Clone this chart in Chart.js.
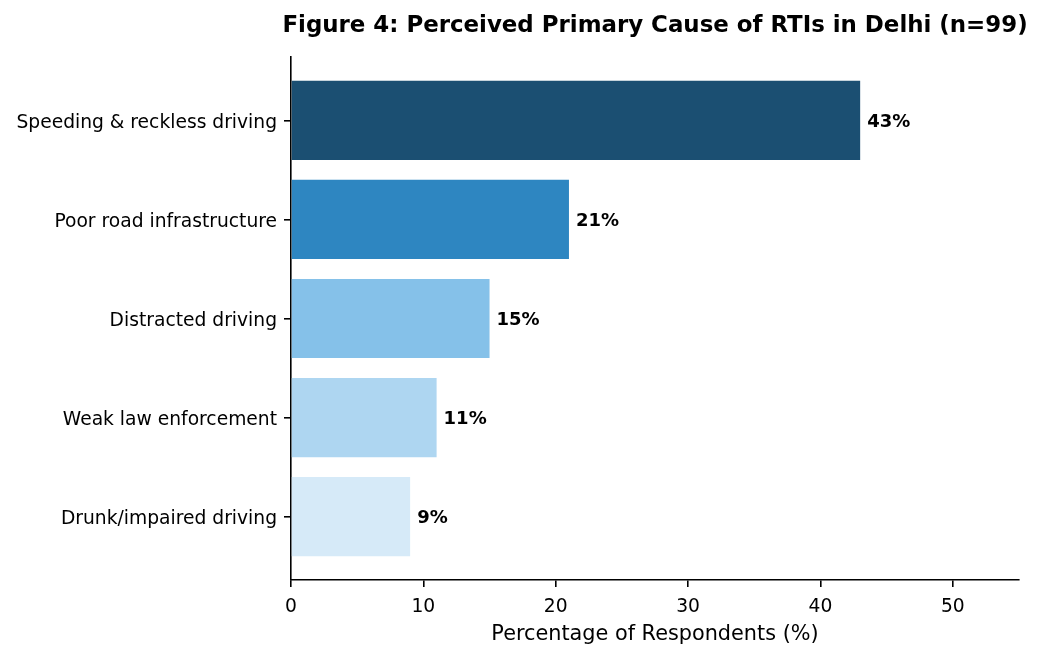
<!DOCTYPE html>
<html lang="en">
<head>
<meta charset="utf-8">
<title>Figure 4</title>
<script src="https://cdn.jsdelivr.net/npm/chart.js@4/dist/chart.umd.min.js"></script>
<style>
    body { margin: 0; background: #ffffff; }
    #wrap { width: 1042px; height: 658px; }
</style>
</head>
<body>
<div id="wrap"><canvas id="canvas" width="1042" height="658"></canvas></div>
<script>
// data
var categories = ["Speeding & reckless driving", "Poor road infrastructure", "Distracted driving", "Weak law enforcement", "Drunk/impaired driving"];
var percents = [43, 21, 15, 11, 9];
var barColors = ["#1b4f72", "#2e86c1", "#85c1e9", "#aed6f1", "#d6eaf8"];
var xTicks = [0, 10, 20, 30, 40, 50];
var titleText = "Figure 4: Perceived Primary Cause of RTIs in Delhi (n=99)";

var FONT = "'DejaVu Sans', sans-serif";

var body = [];
for (var i = 0; i < categories.length; i++) {
    body.push({x: percents[i], y: i});
}

// popisky hodnot za stlpcami + nadpis nad grafom
var valueLabels = {
    id: "valueLabels",
    afterDatasetsDraw: function (chart) {
        var ctx = chart.ctx;
        var meta = chart.getDatasetMeta(0);
        ctx.save();
        ctx.font = "bold 18px " + FONT;
        ctx.fillStyle = "#000000";
        ctx.textAlign = "left";
        ctx.textBaseline = "middle";
        meta.data.forEach(function (bar, i) {
            ctx.fillText(percents[i] + "%", bar.x + 7, bar.y + 2);
        });

        // nadpis - vlastny, aby sa nezuzil na sirku grafu
        var area = chart.chartArea;
        ctx.font = "bold 22.9px " + FONT;
        ctx.textAlign = "center";
        ctx.fillText(titleText, (area.left + area.right) / 2, 26);
        ctx.restore();
    }
};

var graf = new Chart(document.getElementById("canvas"), {
    type: "bar",
    data: {
        datasets: [{
            data: body,
            backgroundColor: barColors,
            borderWidth: 0,
            barPercentage: 0.8,
            categoryPercentage: 1.0
        }]
    },
    options: {
        indexAxis: "y",
        responsive: false,
        animation: false,
        layout: {padding: {left: 0, right: 23, top: 57, bottom: 0}},
        plugins: {
            legend: {display: false},
            tooltip: {enabled: false},
            title: {display: false}
        },
        scales: {
            x: {
                type: "linear",
                min: 0,
                max: 55,
                afterBuildTicks: function (scale) {
                    scale.ticks = xTicks.map(function (v) { return {value: v}; });
                },
                afterFit: function (scale) {
                    scale.height = 78;
                },
                border: {display: true, color: "#000000", width: 1.6},
                grid: {drawOnChartArea: false, drawTicks: true, tickLength: 7, color: "#000000", lineWidth: 1.6},
                ticks: {color: "#000000", font: {family: FONT, size: 18.7}, padding: 9, maxRotation: 0},
                title: {
                    display: true,
                    text: "Percentage of Respondents (%)",
                    color: "#000000",
                    font: {family: FONT, size: 20.8},
                    padding: {top: 0, bottom: 11}
                }
            },
            y: {
                type: "linear",
                reverse: true,
                offset: false,
                min: -0.64,
                max: 4.64,
                afterBuildTicks: function (scale) {
                    scale.ticks = categories.map(function (c, i) { return {value: i}; });
                },
                afterFit: function (scale) {
                    scale.width = 291;
                },
                border: {display: true, color: "#000000", width: 1.6},
                grid: {offset: false, drawOnChartArea: false, drawTicks: true, tickLength: 7, color: "#000000", lineWidth: 1.6},
                ticks: {
                    color: "#000000",
                    font: {family: FONT, size: 18.7},
                    padding: 7,
                    labelOffset: 3,
                    callback: function (value) { return categories[value]; }
                }
            }
        }
    },
    plugins: [valueLabels]
});
</script>
</body>
</html>
